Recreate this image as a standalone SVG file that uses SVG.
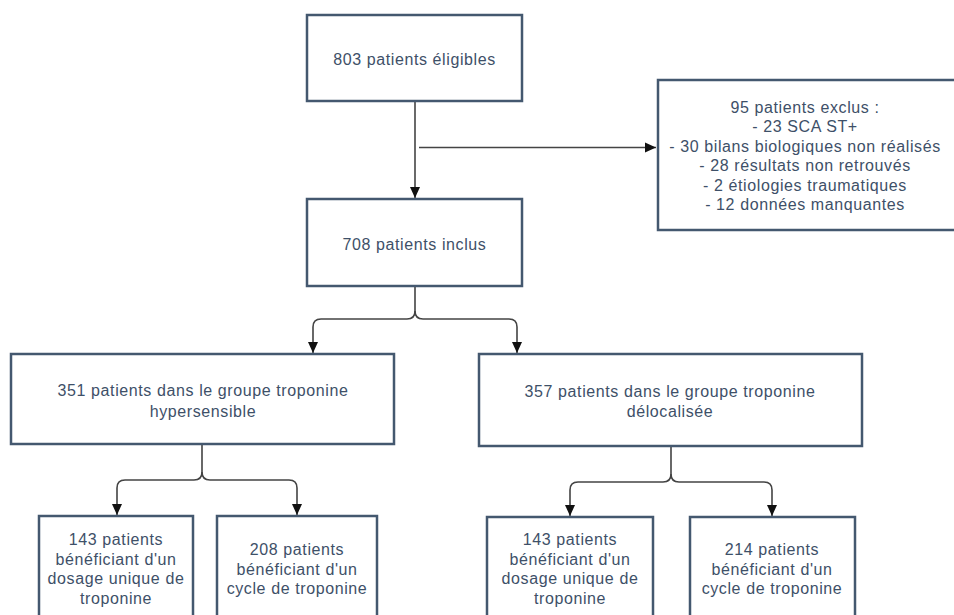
<svg xmlns="http://www.w3.org/2000/svg" width="954" height="615" viewBox="0 0 954 615">
<defs>
<marker id="ah" markerUnits="userSpaceOnUse" markerWidth="12" markerHeight="12" viewBox="0 0 12 12" refX="11" refY="6" orient="auto">
<path d="M0,1 L11,6 L0,11 Z" fill="#111"/>
</marker>
<style>
.box{fill:#fff;stroke:#44586f;stroke-width:2.5}
.t{font-family:"Liberation Sans",Arial,sans-serif;font-size:16px;letter-spacing:0.6px;fill:#3e5068;text-anchor:middle}
.c{fill:none;stroke:#444;stroke-width:1.6}
</style>
</defs>
<rect width="954" height="615" fill="#fff"/>
<g id="connectors">
<path class="c" d="M415,101 V198" marker-end="url(#ah)"/>
<path class="c" d="M419,147.5 H656" marker-end="url(#ah)"/>
<path class="c" d="M415,286 V311 Q415,319 407,319 H321 Q313,319 313,327 V353" marker-end="url(#ah)"/>
<path class="c" d="M415,311 Q415,319 423,319 H509 Q517,319 517,327 V353" marker-end="url(#ah)"/>
<path class="c" d="M202,445 V472 Q202,480 194,480 H125 Q117,480 117,488 V515" marker-end="url(#ah)"/>
<path class="c" d="M202,472 Q202,480 210,480 H289 Q297,480 297,488 V515" marker-end="url(#ah)"/>
<path class="c" d="M671,447 V474 Q671,482 663,482 H578 Q570,482 570,490 V516" marker-end="url(#ah)"/>
<path class="c" d="M671,474 Q671,482 679,482 H764 Q772,482 772,490 V516" marker-end="url(#ah)"/>
</g>
<g id="eligibles">
<rect class="box" x="307" y="15" width="215" height="86"/>
<text class="t" x="414.5" y="65">803 patients éligibles</text>
</g>
<g id="exclus">
<rect class="box" x="658" y="80" width="310" height="150"/>
<text class="t" x="805" y="112.5">95 patients exclus :</text>
<text class="t" x="805" y="132">- 23 SCA ST+</text>
<text class="t" x="805" y="151.5">- 30 bilans biologiques non réalisés</text>
<text class="t" x="805" y="171">- 28 résultats non retrouvés</text>
<text class="t" x="805" y="190.5">- 2 étiologies traumatiques</text>
<text class="t" x="805" y="210">- 12 données manquantes</text>
</g>
<g id="inclus">
<rect class="box" x="307" y="199" width="215" height="87"/>
<text class="t" x="414.5" y="250">708 patients inclus</text>
</g>
<g id="hypersensible">
<rect class="box" x="11" y="354" width="383" height="90"/>
<text class="t" x="203" y="396">351 patients dans le groupe troponine</text>
<text class="t" x="203" y="417">hypersensible</text>
</g>
<g id="delocalisee">
<rect class="box" x="479" y="354" width="383" height="92"/>
<text class="t" x="670" y="397">357 patients dans le groupe troponine</text>
<text class="t" x="670" y="417">délocalisée</text>
</g>
<g id="hs-unique">
<rect class="box" x="39" y="516" width="154" height="120"/>
<text class="t" x="116" y="545">143 patients</text>
<text class="t" x="116" y="564.5">bénéficiant d'un</text>
<text class="t" x="116" y="584">dosage unique de</text>
<text class="t" x="116" y="603.5">troponine</text>
</g>
<g id="hs-cycle">
<rect class="box" x="217" y="516" width="160" height="120"/>
<text class="t" x="297" y="555">208 patients</text>
<text class="t" x="297" y="574.5">bénéficiant d'un</text>
<text class="t" x="297" y="594">cycle de troponine</text>
</g>
<g id="del-unique">
<rect class="box" x="487" y="517" width="166" height="120"/>
<text class="t" x="570" y="545">143 patients</text>
<text class="t" x="570" y="564.5">bénéficiant d'un</text>
<text class="t" x="570" y="584">dosage unique de</text>
<text class="t" x="570" y="603.5">troponine</text>
</g>
<g id="del-cycle">
<rect class="box" x="690" y="517" width="165" height="120"/>
<text class="t" x="772" y="555">214 patients</text>
<text class="t" x="772" y="574.5">bénéficiant d'un</text>
<text class="t" x="772" y="594">cycle de troponine</text>
</g>
</svg>
